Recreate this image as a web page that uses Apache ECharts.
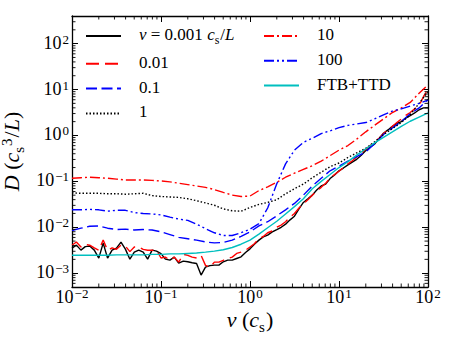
<!DOCTYPE html>
<html><head><meta charset="utf-8">
<script src="https://cdn.jsdelivr.net/npm/echarts@6/dist/echarts.min.js"></script>
<style>html,body{margin:0;padding:0;background:#fff}#c{width:450px;height:338px}</style>
</head><body><div id="c"></div>
<script>
const FONT = 'Liberation Serif';

// x sample points (v in units of c_s)
const xFine = [
0.0100,0.0112,0.0126,0.0141,0.0158,0.0178,0.0200,0.0224,0.0251,0.0282,0.0316,0.0355,0.0398,0.0447,0.0501,0.0562,0.0631,0.0708,0.0794,0.0891,
0.100,0.112,0.126,0.141,0.158,0.178,0.200,0.224,0.251,0.282,0.316,0.355,0.398,0.447,0.501,0.562,0.631,0.708,0.794,0.891,
1.00,1.12,1.26,1.41,1.58,1.78,2.00,2.24,2.51,2.82,3.16,3.55,3.98,4.47,5.01,5.62,6.31,7.08,7.94,8.91,
10.0,11.2,12.6,14.1,15.8,17.8,20.0,22.4,25.1,28.2,31.6,35.5,39.8,44.7,50.1,56.2,63.1,70.8,79.4,89.1,
100];
const xCoarse = [
0.0100,0.0126,0.0158,0.0200,0.0251,0.0316,0.0398,0.0501,0.0631,0.0794,
0.100,0.126,0.158,0.200,0.251,0.316,0.398,0.501,0.631,0.794,
1.00,1.26,1.58,2.00,2.51,3.16,3.98,5.01,6.31,7.94,
10.0,12.6,15.8,20.0,25.1,31.6,39.8,50.1,63.1,79.4,
100];

// D values (c_s^3/L)
const dNu0001 = [
3.52e-3,4.08e-3,3.18e-3,3.79e-3,3.89e-3,3.18e-3,2.13e-3,4.52e-3,2.13e-3,3.18e-3,
3.52e-3,4.75e-3,3.34e-3,2.02e-3,2.88e-3,3.18e-3,2.88e-3,2.02e-3,3.18e-3,3.02e-3,
2.67e-3,2.02e-3,1.92e-3,2.23e-3,1.65e-3,1.83e-3,1.77e-3,1.69e-3,1.63e-3,9.1e-4,
1.35e-3,1.46e-3,1.50e-3,1.50e-3,1.77e-3,1.92e-3,1.92e-3,2.09e-3,2.27e-3,2.81e-3,
3.39e-3,
4.27e-3,5.25e-3,6.17e-3,6.76e-3,7.94e-3,8.91e-3,1.00e-2,1.17e-2,1.45e-2,1.74e-2,
2.51e-2,3.47e-2,4.17e-2,5.01e-2,6.46e-2,7.94e-2,8.71e-2,0.115,0.138,0.170,
0.195,0.229,0.263,0.302,0.372,0.468,0.562,0.646,0.851,1.12,
1.32,1.58,1.82,2.00,2.40,2.69,3.09,3.63,3.98,3.98];
const dNu001 = [
4.07e-3,4.79e-3,3.72e-3,4.27e-3,4.07e-3,3.55e-3,3.16e-3,5.25e-3,3.16e-3,3.55e-3,
3.31e-3,4.07e-3,3.89e-3,2.95e-3,3.72e-3,3.72e-3,3.31e-3,3.16e-3,3.16e-3,3.16e-3,
2.14e-3,2.24e-3,1.91e-3,2.24e-3,1.74e-3,2.57e-3,2.45e-3,2.24e-3,2.14e-3,2.45e-3,
1.48e-3,1.35e-3,1.74e-3,1.74e-3,1.91e-3,2.09e-3,2.24e-3,2.69e-3,2.88e-3,3.16e-3,
3.72e-3,
4.37e-3,5.62e-3,6.31e-3,7.59e-3,8.32e-3,1.00e-2,1.12e-2,1.32e-2,1.66e-2,2.00e-2,
2.63e-2,3.24e-2,3.98e-2,5.01e-2,6.17e-2,7.41e-2,9.12e-2,0.117,0.141,0.166,
0.200,0.240,0.282,0.339,0.417,0.501,0.603,0.724,0.871,1.10,
1.32,1.58,1.91,2.29,2.75,3.16,3.80,4.47,7.08,10.0];
const dNu01 = [
8.51e-3,9.55e-3,1.05e-2,1.07e-2,9.55e-3,8.91e-3,9.12e-3,8.71e-3,8.91e-3,8.71e-3,
7.94e-3,6.92e-3,6.03e-3,5.62e-3,5.25e-3,4.79e-3,4.57e-3,4.68e-3,5.25e-3,6.31e-3,
7.94e-3,1.07e-2,1.32e-2,1.78e-2,2.40e-2,3.31e-2,5.01e-2,7.94e-2,0.117,0.170,
0.214,0.275,0.347,0.437,0.661,1.05,1.45,2.00,2.95,3.98,
6.03];
const dNu1 = [
5.62e-2,5.50e-2,5.50e-2,5.50e-2,5.37e-2,5.37e-2,5.25e-2,5.37e-2,5.50e-2,4.90e-2,
4.68e-2,4.57e-2,4.47e-2,4.17e-2,3.80e-2,3.39e-2,3.02e-2,2.51e-2,2.29e-2,2.24e-2,
2.69e-2,3.16e-2,3.47e-2,3.98e-2,5.37e-2,6.92e-2,8.71e-2,0.120,0.158,0.209,
0.251,0.331,0.417,0.525,0.724,1.05,1.41,1.91,2.82,5.01,
8.91];
const dNu10 = [
0.117,0.120,0.123,0.120,0.117,0.112,0.107,0.107,0.107,0.105,
0.102,9.77e-2,9.12e-2,8.51e-2,7.94e-2,7.41e-2,6.61e-2,5.75e-2,5.01e-2,4.68e-2,
4.79e-2,6.31e-2,7.59e-2,9.55e-2,0.123,0.151,0.182,0.219,0.275,0.363,
0.479,0.603,0.832,1.20,1.66,2.29,3.16,3.98,5.25,8.32,
12.6];
const dNu100 = [
2.40e-2,2.40e-2,2.45e-2,2.40e-2,2.24e-2,2.34e-2,2.34e-2,2.09e-2,2.00e-2,1.95e-2,
1.86e-2,1.66e-2,1.51e-2,1.41e-2,1.17e-2,9.33e-3,7.59e-3,6.61e-3,6.61e-3,7.59e-3,
9.12e-3,1.20e-2,2.63e-2,8.91e-2,0.240,0.479,0.708,0.871,1.10,1.26,
1.48,1.66,1.78,1.91,2.29,2.82,3.39,3.80,4.37,5.01,
5.89];
const dFtbTtd = [
2.45e-3,2.45e-3,2.45e-3,2.45e-3,2.45e-3,2.51e-3,2.51e-3,2.51e-3,2.51e-3,2.57e-3,
2.57e-3,2.63e-3,2.63e-3,2.69e-3,2.75e-3,2.88e-3,3.02e-3,3.24e-3,3.63e-3,4.27e-3,
5.25e-3,7.08e-3,9.77e-3,1.35e-2,1.95e-2,2.82e-2,4.17e-2,6.92e-2,0.100,0.141,
0.200,0.269,0.372,0.513,0.692,0.912,1.20,1.58,2.04,2.51,
3.09];

const seriesNames = ['0.001','0.01','0.1','1','10','100','FTB+TTD'];
const legendLabels = {
  '0.001': '{i|\u03bd}{n| = 0.001 }{i|c}{sub|s}{n|/}{i|L}',
  '0.01': '{n|0.01}', '0.1': '{n|0.1}', '1': '{n|1}',
  '10': '{n|10}', '100': '{n|100}', 'FTB+TTD': '{n|FTB+TTD}'
};

const xMin = 0.01, xMax = 100, yMin = 5e-4, yMax = 400;

function pair(xs, ys) { return xs.map((x, i) => [x, ys[i]]); }

function powLabel(v) {
  const e = Math.round(Math.log10(v));
  if (Math.abs(v / Math.pow(10, e) - 1) > 1e-6) return '';
  return '{b|10}{s|' + (e < 0 ? '\u2212' + (-e) : e) + '}';
}

const tickRich = {
  b: {fontFamily: FONT, fontSize: 18, lineHeight: 16, color: '#000', verticalAlign: 'bottom'},
  s: {fontFamily: FONT, fontSize: 13, lineHeight: 12, color: '#000', verticalAlign: 'bottom', padding: [0, 0, 6, 1]}
};
const nameRich = {
  n: {fontFamily: FONT, fontSize: 22, lineHeight: 22, color: '#000', verticalAlign: 'bottom', padding: [0, 0, 4, 0]},
  i: {fontFamily: FONT, fontSize: 22, lineHeight: 22, fontStyle: 'italic', color: '#000', verticalAlign: 'bottom', padding: [0, 0, 4, 0]},
  sub: {fontFamily: FONT, fontSize: 15, lineHeight: 15, color: '#000', verticalAlign: 'bottom', padding: [0, 1, 0, 0]},
  sup: {fontFamily: FONT, fontSize: 15, lineHeight: 15, color: '#000', verticalAlign: 'bottom', padding: [0, 1, 12, 0]}
};
const legRich = {
  n: {fontFamily: FONT, fontSize: 17, color: '#000', verticalAlign: 'bottom', padding: [0, 0, 3, 0]},
  i: {fontFamily: FONT, fontSize: 17, fontStyle: 'italic', color: '#000', verticalAlign: 'bottom', padding: [0, 0, 3, 0]},
  sub: {fontFamily: FONT, fontSize: 12, color: '#000', verticalAlign: 'bottom', padding: [0, 1, 0, 0]}
};

const xMinor = [], yMinor = [];
for (let e = -2; e < 2; e++) for (let m = 2; m <= 9; m++) xMinor.push(m * Math.pow(10, e));
for (let e = -4; e <= 2; e++) for (let m = 2; m <= 9; m++) {
  const v = m * Math.pow(10, e);
  if (v > yMin && v < yMax) yMinor.push(v);
}

const axisLineStyle = {show: true, onZero: false, lineStyle: {color: '#000', width: 1.3}};
const majorTick = {show: true, inside: true, length: 6, lineStyle: {color: '#000', width: 1}};

function baseX(pos, showLabel) {
  return {
    type: 'log', logBase: 10, min: xMin, max: xMax, position: pos, gridIndex: 0,
    axisLine: axisLineStyle, axisTick: majorTick, splitLine: {show: false}, minorTick: {show: false},
    axisLabel: showLabel ? {show: true, formatter: powLabel, margin: 3, fontFamily: FONT, fontSize: 18, color: '#000', rich: tickRich, showMinLabel: true, showMaxLabel: true} : {show: false}
  };
}
function baseY(pos, showLabel) {
  return {
    type: 'log', logBase: 10, min: yMin, max: yMax, position: pos, gridIndex: 0,
    axisLine: axisLineStyle, axisTick: majorTick, splitLine: {show: false}, minorTick: {show: false},
    axisLabel: showLabel ? {show: true, formatter: powLabel, margin: 3, fontFamily: FONT, fontSize: 18, color: '#000', rich: tickRich} : {show: false}
  };
}

const xA = baseX('bottom', true);
xA.name = '{i|v}{n| (}{i|c}{sub|s}{n|)}';
xA.nameLocation = 'middle';
xA.nameGap = 25;
xA.nameMoveOverlap = false;
xA.nameTextStyle = {fontFamily: FONT, fontSize: 22, color: '#000', rich: nameRich};
const yA = baseY('left', true);
yA.name = '{i|D}{n| (}{i|c}{sub|s}{sup|3}{n|/}{i|L}{n|)}';
yA.nameLocation = 'middle';
yA.nameRotate = 90;
yA.nameGap = 46;
yA.nameMoveOverlap = false;
yA.nameTextStyle = {fontFamily: FONT, fontSize: 22, color: '#000', rich: nameRich};

function lineSeries(name, xs, ys, color, type) {
  return {
    name: name, type: 'line', data: pair(xs, ys), xAxisIndex: 0, yAxisIndex: 0,
    symbol: 'none', showSymbol: false, smooth: false, animation: false,
    lineStyle: {color: color, width: 1.4, type: type}, itemStyle: {color: color}
  };
}

function minorTickSeries(vals, isX) {
  return {
    type: 'custom', name: isX ? 'xminor' : 'yminor', silent: true, z: 5, clip: false,
    xAxisIndex: 0, yAxisIndex: 0, animation: false,
    data: vals.map(v => isX ? [v, yMin] : [xMin, v]),
    renderItem: function (params, api) {
      const st = {stroke: '#000', lineWidth: 0.9};
      if (isX) {
        const b = api.coord([api.value(0), yMin]);
        const t = api.coord([api.value(0), yMax]);
        return {type: 'group', children: [
          {type: 'line', shape: {x1: b[0], y1: b[1], x2: b[0], y2: b[1] - 3.5}, style: st},
          {type: 'line', shape: {x1: t[0], y1: t[1], x2: t[0], y2: t[1] + 3.5}, style: st}
        ]};
      } else {
        const l = api.coord([xMin, api.value(1)]);
        const r = api.coord([xMax, api.value(1)]);
        return {type: 'group', children: [
          {type: 'line', shape: {x1: l[0], y1: l[1], x2: l[0] + 3.5, y2: l[1]}, style: st},
          {type: 'line', shape: {x1: r[0], y1: r[1], x2: r[0] - 3.5, y2: r[1]}, style: st}
        ]};
      }
    }
  };
}

const legendCommon = {
  orient: 'vertical', padding: 0, itemWidth: 35, itemHeight: 14, itemGap: 7.8,
  selectedMode: false, itemStyle: {opacity: 0},
  formatter: n => legendLabels[n],
  textStyle: {fontFamily: FONT, fontSize: 17, color: '#000', padding: [0, 0, 0, 13], rich: legRich}
};

const chart = echarts.init(document.getElementById('c'), null, {renderer: 'svg'});
chart.setOption({
  animation: false,
  backgroundColor: '#fff',
  grid: {left: 72, right: 22, top: 16, bottom: 51, containLabel: false, outerBoundsMode: 'none'},
  xAxis: [xA, baseX('top', false)],
  yAxis: [yA, baseY('right', false)],
  legend: [
    Object.assign({}, legendCommon, {data: seriesNames.slice(0, 4), left: 85, top: 26}),
    Object.assign({}, legendCommon, {data: seriesNames.slice(4), left: 263, top: 26})
  ],
  series: [
    lineSeries(seriesNames[0], xFine, dNu0001, '#000000', 'solid'),
    lineSeries(seriesNames[1], xFine, dNu001, '#ff0000', [13, 6]),
    lineSeries(seriesNames[2], xCoarse, dNu01, '#0000ff', [11, 4.5]),
    lineSeries(seriesNames[3], xCoarse, dNu1, '#000000', [1.5, 2]),
    lineSeries(seriesNames[4], xCoarse, dNu10, '#ff0000', [10, 3, 2, 3]),
    lineSeries(seriesNames[5], xCoarse, dNu100, '#0000ff', [10, 3, 2, 3, 2, 3]),
    lineSeries(seriesNames[6], xCoarse, dFtbTtd, '#00bfbf', 'solid'),
    minorTickSeries(xMinor, true),
    minorTickSeries(yMinor, false)
  ]
});
</script>
</body></html>
